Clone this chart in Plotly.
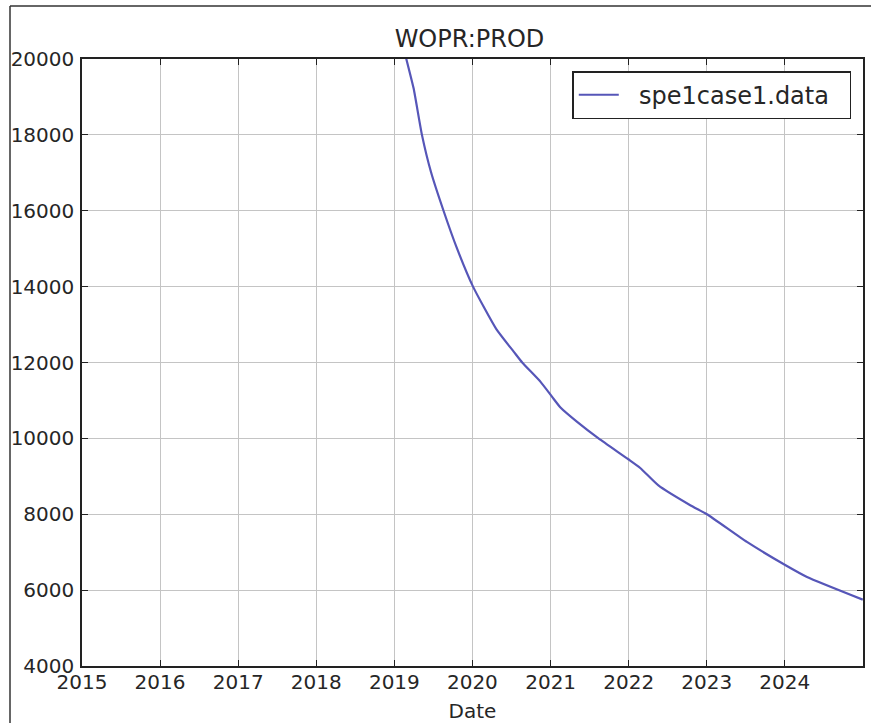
import plotly.graph_objects as go

# --- data ---
dates = [
    "2019-01-01", "2019-02-26", "2019-04-01", "2019-05-10", "2019-06-21",
    "2019-08-19", "2019-10-21", "2020-01-04", "2020-04-22",
    "2020-07-13", "2020-08-21", "2020-11-15", "2021-01-08", "2021-02-16",
    "2021-05-05", "2021-08-13", "2022-01-01", "2022-02-24", "2022-05-20",
    "2022-10-16", "2023-01-02", "2023-07-08", "2024-01-05", "2024-04-14",
    "2024-12-31",
]
wopr = [
    21300, 20000, 19227, 18000, 17027,
    16000, 15007, 14000, 12880,
    12281, 12000, 11490, 11094, 10814,
    10435, 10000, 9443, 9220, 8760,
    8238, 8000, 7270, 6656, 6347,
    5750,
]
series_name = "spe1case1.data"
chart_title = "WOPR:PROD"
x_label = "Date"
year_ticks = ["2015", "2016", "2017", "2018", "2019", "2020", "2021", "2022", "2023", "2024"]
y_ticks = [4000, 6000, 8000, 10000, 12000, 14000, 16000, 18000, 20000]

W, H = 871, 723
L, R, T, B = 82, 8, 59, 57
FONT = "DejaVu Sans"
TXT = "#262626"
NB = "\u00a0"

fig = go.Figure()
fig.add_trace(go.Scatter(
    x=dates, y=wopr, mode="lines", name=NB * 2 + series_name + NB * 2,
    line=dict(color="#5656b8", width=2.2, shape="spline", smoothing=0.5),
))

fig.update_layout(
    width=W, height=H,
    margin=dict(l=L, r=R, t=T, b=B, autoexpand=False),
    paper_bgcolor="white", plot_bgcolor="white",
    font=dict(family=FONT, size=20, color=TXT),
    title=dict(text=chart_title, x=0.539, xanchor="center",
               yref="container", y=1 - 39 / H, yanchor="middle",
               font=dict(size=24, color=TXT)),
    showlegend=True,
    legend=dict(x=0.985, y=0.980, xanchor="right", yanchor="top",
                bgcolor="white", bordercolor="#222", borderwidth=1.5,
                font=dict(size=24, color=TXT), itemwidth=40),
)

fig.update_xaxes(
    range=["2015-01-01", "2025-01-01"],
    tickvals=[y + "-01-01" for y in year_ticks], ticktext=year_ticks,
    showgrid=True, gridcolor="#c4c4c4", gridwidth=1,
    showline=True, linecolor="#222", linewidth=1.5, mirror="ticks",
    ticks="inside", ticklen=6, tickcolor="#222", tickwidth=1,
    tickfont=dict(size=20, color=TXT), ticklabelstandoff=-3,
    title=dict(text=x_label, font=dict(size=20, color=TXT), standoff=11),
    zeroline=False, automargin=False,
)
fig.update_yaxes(
    range=[4000, 20000], tickvals=y_ticks, ticktext=[str(v) for v in y_ticks],
    showgrid=True, gridcolor="#c4c4c4", gridwidth=1,
    showline=True, linecolor="#222", linewidth=1.5, mirror="ticks",
    ticks="inside", ticklen=6, tickcolor="#222", tickwidth=1,
    tickfont=dict(size=20, color=TXT), ticklabelstandoff=2,
    zeroline=False, automargin=False,
)

# screenshot frame lines (top and left edges of the reference picture)
fig.add_shape(type="line", xref="paper", yref="paper",
              x0=(10 - L) / (W - L - R), x1=(W - L) / (W - L - R) + 0.01,
              y0=(H - B - 6) / (H - T - B), y1=(H - B - 6) / (H - T - B),
              line=dict(color="#333", width=1.5), layer="above")
fig.add_shape(type="line", xref="paper", yref="paper",
              x0=(10 - L) / (W - L - R), x1=(10 - L) / (W - L - R),
              y0=(H - B - 6) / (H - T - B), y1=-B / (H - T - B) - 0.01,
              line=dict(color="#333", width=1.5), layer="above")

fig.write_html(
    "out.html",
    config={"displayModeBar": False},
    post_script="document.body.style.margin='0';document.body.style.overflow='hidden';",
)
